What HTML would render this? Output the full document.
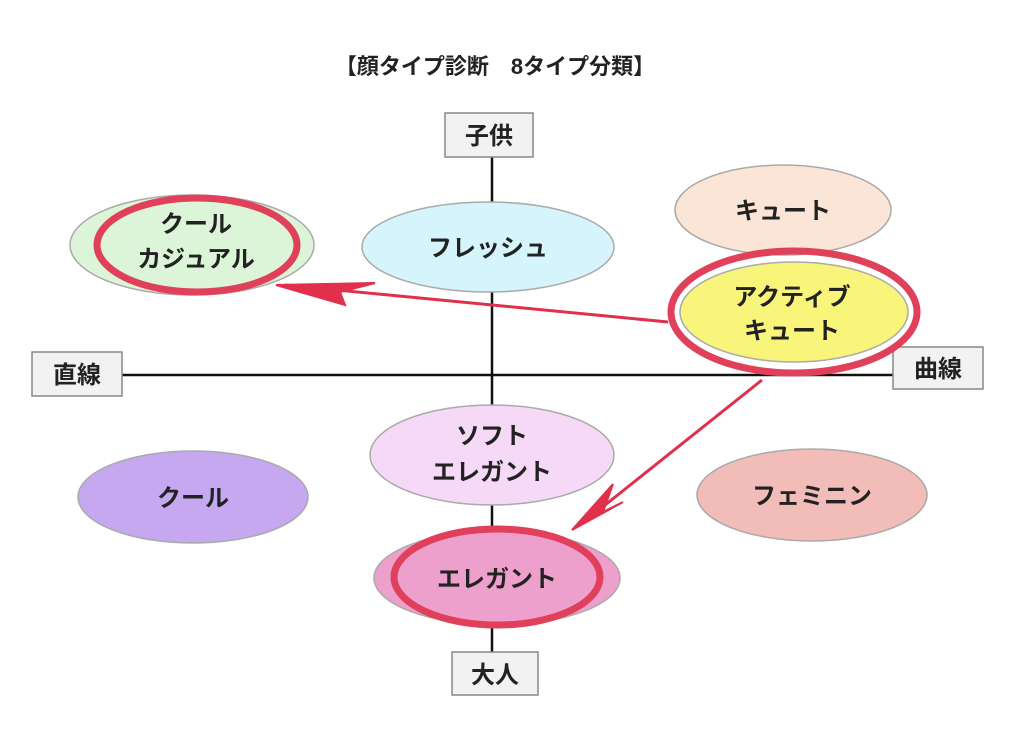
<!DOCTYPE html>
<html><head><meta charset="utf-8"><style>
html,body{margin:0;padding:0;background:#fff;}
svg{display:block;}
text{font-family:"Liberation Sans","Noto Sans CJK JP",sans-serif;fill:#222;font-weight:bold;}
</style></head><body>
<svg width="1024" height="741" viewBox="0 0 1024 741" xmlns="http://www.w3.org/2000/svg">
<rect width="1024" height="741" fill="#fff"/>
<text x="495" y="74" font-size="22" text-anchor="middle">【顔タイプ診断　8タイプ分類】</text>
<line x1="492" y1="157" x2="492" y2="652" stroke="#111" stroke-width="2.5"/>
<line x1="122" y1="375" x2="893" y2="375" stroke="#111" stroke-width="2.5"/>
<g fill="#f2f2f2" stroke="#888" stroke-width="1.5">
<rect x="445" y="113" width="88" height="44"/>
<rect x="452" y="652" width="86" height="43"/>
<rect x="32" y="352" width="90" height="44"/>
<rect x="893" y="347" width="90" height="42"/>
</g>
<g font-size="24" text-anchor="middle">
<text x="489" y="144">子供</text>
<text x="495" y="683">大人</text>
<text x="77" y="383">直線</text>
<text x="938" y="377">曲線</text>
</g>
<g stroke="#aaa" stroke-width="1.5">
<ellipse cx="192" cy="245" rx="122" ry="50" fill="#dcf5d8"/>
<ellipse cx="488" cy="247" rx="126" ry="45" fill="#d6f4fb"/>
<ellipse cx="783" cy="210" rx="108" ry="45" fill="#fbe5d6"/>
<ellipse cx="794" cy="312" rx="114" ry="50" fill="#f8f57a"/>
<ellipse cx="492" cy="455" rx="122" ry="50" fill="#f6d9f6"/>
<ellipse cx="193" cy="497" rx="115" ry="46" fill="#c6a8f0"/>
<ellipse cx="812" cy="495" rx="115" ry="46" fill="#f2bcb8"/>
<ellipse cx="497" cy="578" rx="123" ry="47" fill="#eea0cc"/>
</g>
<g fill="none" stroke="#e0405a" stroke-width="7">
<ellipse cx="197" cy="245" rx="100" ry="47"/>
<ellipse cx="794" cy="312" rx="123" ry="61"/>
<ellipse cx="497" cy="577" rx="103" ry="48"/>
</g>
<g font-size="24" text-anchor="middle">
<text x="196" y="232">クール</text>
<text x="196" y="267">カジュアル</text>
<text x="488" y="256">フレッシュ</text>
<text x="783" y="219">キュート</text>
<text x="792" y="305">アクティブ</text>
<text x="792" y="339">キュート</text>
<text x="492" y="444">ソフト</text>
<text x="492" y="480">エレガント</text>
<text x="193" y="506">クール</text>
<text x="812" y="504">フェミニン</text>
<text x="497" y="587">エレガント</text>
</g>
<g stroke="#e0304c" stroke-width="3" fill="#e0304c">
<line x1="668" y1="322" x2="285" y2="285"/>
<line x1="762" y1="380" x2="580" y2="525"/>
<polygon points="276,285 375,283 340,292 345,305" stroke-width="2"/>
<polygon points="572,530 613,484 603,512 623,502" stroke-width="2"/>
</g>
</svg>
</body></html>
